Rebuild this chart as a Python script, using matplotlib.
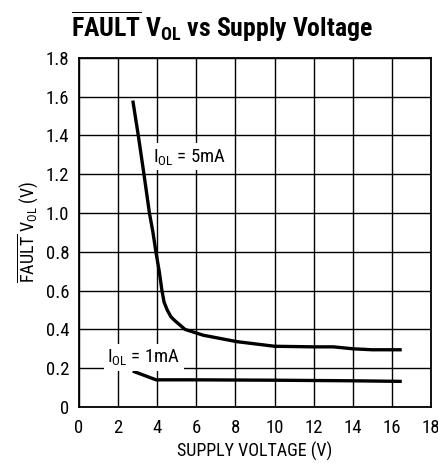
import numpy as np
import matplotlib
matplotlib.use("Agg")
import matplotlib.pyplot as plt

# condensed sans, close to the datasheet look
plt.rcParams['font.family'] = ['Roboto Condensed', 'DejaVu Sans']
plt.rcParams['mathtext.fontset'] = 'custom'
plt.rcParams['mathtext.rm'] = 'Roboto Condensed'
plt.rcParams['mathtext.it'] = 'Roboto Condensed:italic'
plt.rcParams['mathtext.bf'] = 'Roboto Condensed:bold'

# curve data
v_5ma = [2.75, 3.03, 3.32, 3.6, 3.78, 3.93, 4.1, 4.24, 4.35, 4.51, 4.7, 4.9, 5.42, 6.35, 8.06, 10.0, 12.0, 13.0, 14.0, 15.0, 16.5]
vol_5ma = [1.58, 1.40, 1.20, 1.00, 0.90, 0.80, 0.70, 0.60, 0.54, 0.50, 0.465, 0.445, 0.40, 0.37, 0.337, 0.313, 0.31, 0.31, 0.30, 0.295, 0.295]

v_1ma = [2.75, 3.94, 6.0, 10.0, 14.0, 16.5]
vol_1ma = [0.185, 0.14, 0.14, 0.138, 0.135, 0.132]

x_ticks = np.arange(0, 19, 2)
y_ticks = np.round(np.arange(0, 1.81, 0.2), 1)
y_labels = ["0"] + [f"{t:.1f}" for t in y_ticks[1:]]

fig = plt.figure(figsize=(4.39, 4.63), dpi=100)
ax = fig.add_axes([0.18, 0.121, 0.802, 0.754])

ax.plot(v_5ma, vol_5ma, color="black", linewidth=2.4, solid_capstyle="butt", zorder=3)
ax.plot(v_1ma, vol_1ma, color="black", linewidth=2.4, solid_capstyle="butt", zorder=3)

ax.set_xlim(0, 18)
ax.set_ylim(0, 1.8)
ax.set_xticks(x_ticks)
ax.set_yticks(y_ticks)
ax.set_yticklabels(y_labels)
ax.tick_params(axis="y", length=0, labelsize=13.5, pad=7)
ax.tick_params(axis="x", length=0, labelsize=13.5, pad=9)
ax.grid(True, color="black", linewidth=1.0)
for s in ax.spines.values():
    s.set_linewidth(1.3)

bbox = dict(facecolor="white", edgecolor="none", pad=2.5)
ax.text(3.8, 1.29, r"I$_{\mathrm{OL}}$ = 5mA", fontsize=13.5, ha="left", va="center", bbox=bbox, zorder=4)
ax.text(3.3, 0.256, r"I$_{\mathrm{OL}}$ = 1mA", fontsize=13.5, ha="center", va="center", bbox=bbox, zorder=4)

ax.set_xlabel("SUPPLY VOLTAGE (V)", fontsize=13, labelpad=3)
ax.set_ylabel(r"$\overline{\mathrm{FAULT}}$ V$_{\mathrm{OL}}$ (V)", fontsize=13, labelpad=4)
fig.text(0.506, 1 - 37 / 463, r"$\overline{\mathbf{FAULT}}$ V$_{\mathbf{OL}}$ vs Supply Voltage",
         fontsize=18.5, fontweight="bold", ha="center", va="baseline")

fig.savefig("out.png", dpi=100)
